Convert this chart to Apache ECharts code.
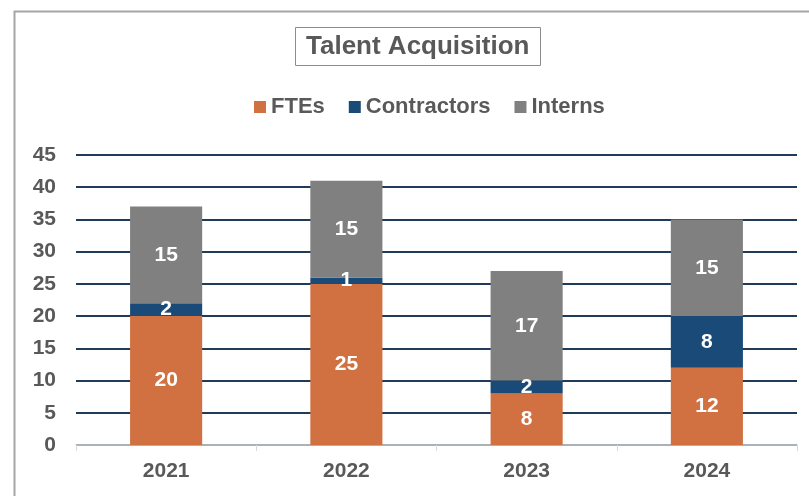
<!DOCTYPE html>
<html>
<head>
<meta charset="utf-8">
<style>
  html, body { margin: 0; padding: 0; background: #fff; }
  #chart { width: 809px; height: 496px; }
</style>
<script src="https://cdn.jsdelivr.net/npm/echarts@6/dist/echarts.min.js"></script>
</head>
<body>
<div id="chart"></div>
<script>
var years = ['2021', '2022', '2023', '2024'];
var ftes = [20, 25, 8, 12];
var contractors = [2, 1, 2, 8];
var interns = [15, 15, 17, 15];
var yTicks = { min: 0, max: 45, interval: 5 };

var orange = '#D17141';
var navy = '#1A4A78';
var grey = '#808080';
var textGrey = '#595959';
var font = 'Liberation Sans, Arial, sans-serif';

var chart = echarts.init(document.getElementById('chart'), null, { renderer: 'canvas' });

function barSeries(name, data, color) {
  return {
    name: name,
    type: 'bar',
    stack: 'total',
    barWidth: '40%',
    data: data,
    itemStyle: { color: color },
    label: {
      show: true,
      position: 'inside',
      color: '#fff',
      fontWeight: 'bold',
      fontSize: 21,
      fontFamily: font
    }
  };
}

chart.setOption({
  animation: false,
  graphic: [{
    type: 'rect',
    left: 12,
    top: 9,
    shape: { width: 900, height: 600 },
    style: { fill: 'none', stroke: '#a6a6a6', lineWidth: 2 },
    silent: true
  }],
  title: {
    text: 'Talent Acquisition',
    left: 295,
    top: 27,
    padding: [7, 11, 6, 11],
    borderColor: '#8c8c8c',
    borderWidth: 1,
    textStyle: { color: textGrey, fontWeight: 'bold', fontSize: 26, fontFamily: font }
  },
  legend: {
    top: 91,
    left: 249,
    itemWidth: 12,
    itemHeight: 12,
    itemGap: 24,
    icon: 'rect',
    textStyle: { color: textGrey, fontWeight: 'bold', fontSize: 22, fontFamily: font },
    data: ['FTEs', 'Contractors', 'Interns']
  },
  grid: { left: 76, right: 12, top: 155, bottom: 51, containLabel: false },
  xAxis: {
    type: 'category',
    data: years,
    axisLine: { lineStyle: { color: '#d9d9d9', width: 1.5 } },
    axisTick: { show: true, lineStyle: { color: '#d9d9d9' }, length: 6 },
    axisLabel: { color: textGrey, fontWeight: 'bold', fontSize: 21, fontFamily: font, margin: 16 }
  },
  yAxis: {
    type: 'value',
    min: yTicks.min,
    max: yTicks.max,
    interval: yTicks.interval,
    axisLine: { show: false },
    axisTick: { show: false },
    splitLine: { lineStyle: { color: '#1F3B5A', width: 2 } },
    axisLabel: { color: textGrey, fontWeight: 'bold', fontSize: 21, fontFamily: font, margin: 20 }
  },
  series: [
    barSeries('FTEs', ftes, orange),
    barSeries('Contractors', contractors, navy),
    barSeries('Interns', interns, grey)
  ]
});
</script>
</body>
</html>
